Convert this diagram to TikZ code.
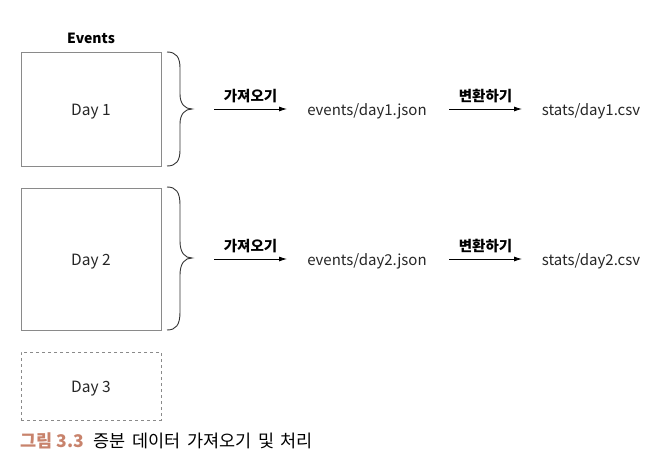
\documentclass[tikz,border=0pt]{standalone}
\usepackage{fontspec}
\setmainfont{Noto Sans CJK KR}
\usetikzlibrary{arrows.meta}
\definecolor{boxgray}{HTML}{8A8A8A}
\definecolor{capred}{HTML}{C8836C}
\tikzset{
  daybox/.style={draw=boxgray, line width=0.9pt, minimum width=140pt, inner sep=0pt},
  daytxt/.style={font=\fontsize{15.5}{18}\selectfont, text=black!85, inner sep=0pt, yshift=-3pt},
  lbl/.style={font=\fontsize{15}{18}\selectfont, text=black!85, inner sep=0pt, yshift=-2.5pt},
  actlbl/.style={font=\bfseries\fontsize{14.5}{17}\selectfont, inner sep=0pt},
  evlbl/.style={font=\bfseries\fontsize{14}{17}\selectfont, inner sep=0pt},
  flow/.style={-{Latex[length=8pt,width=5pt]}, line width=0.8pt},
  bracestyle/.style={line width=0.9pt, draw=black!80}
}
\begin{document}
\begin{tikzpicture}[x=1pt,y=-1pt]
\useasboundingbox (0,0) rectangle (668,468);
\node[evlbl] (ev) at (91,38) {Events};
\node[daybox, minimum height=114pt] (d1) at (91,109) {};
\node[daytxt] (t1) at (d1.center) {Day 1};
\node[daybox, minimum height=142pt] (d2) at (91,259) {};
\node[daytxt] (t2) at (d2.center) {Day 2};
\node[daybox, minimum height=68pt, dashed] (d3) at (91,386) {};
\node[daytxt] (t3) at (d3.center) {Day 3};
% braces
\draw[bracestyle] (167,52) .. controls (176,52) and (180,57) .. (180,68) -- (180,94) .. controls (180,104) and (185,109) .. (192,109)
  .. controls (185,109) and (180,114) .. (180,124) -- (180,150) .. controls (180,161) and (176,166) .. (167,166);
\draw[bracestyle] (167,187) .. controls (176,187) and (180,192) .. (180,205) -- (180,241) .. controls (180,253) and (185,258) .. (192,258)
  .. controls (185,258) and (180,263) .. (180,275) -- (180,312) .. controls (180,325) and (176,330) .. (167,330);
% row 1
\coordinate (a1s) at (214,109);
\coordinate (a1e) at (287,109);
\node[lbl] (j1) at (367,109) {events/day1.json};
\coordinate (b1s) at (449,109);
\coordinate (b1e) at (522,109);
\node[lbl] (c1) at (591,109) {stats/day1.csv};
\draw[flow] (a1s) -- (a1e) node[midway, above=6pt, actlbl] {가져오기};
\draw[flow] (b1s) -- (b1e) node[midway, above=6pt, actlbl] {변환하기};
% row 2
\coordinate (a2s) at (214,259);
\coordinate (a2e) at (287,259);
\node[lbl] (j2) at (367,259) {events/day2.json};
\coordinate (b2s) at (449,259);
\coordinate (b2e) at (522,259);
\node[lbl] (c2) at (591,259) {stats/day2.csv};
\draw[flow] (a2s) -- (a2e) node[midway, above=6pt, actlbl] {가져오기};
\draw[flow] (b2s) -- (b2e) node[midway, above=6pt, actlbl] {변환하기};
% caption
\node[anchor=west, inner sep=0pt, font=\fontsize{17.5}{20}\selectfont] (cap) at (20,441) {{\bfseries\color{capred}그림 3.3}\hspace{10pt}\spaceskip=6.5pt 증분 데이터 가져오기 및 처리};
\end{tikzpicture}
\end{document}
